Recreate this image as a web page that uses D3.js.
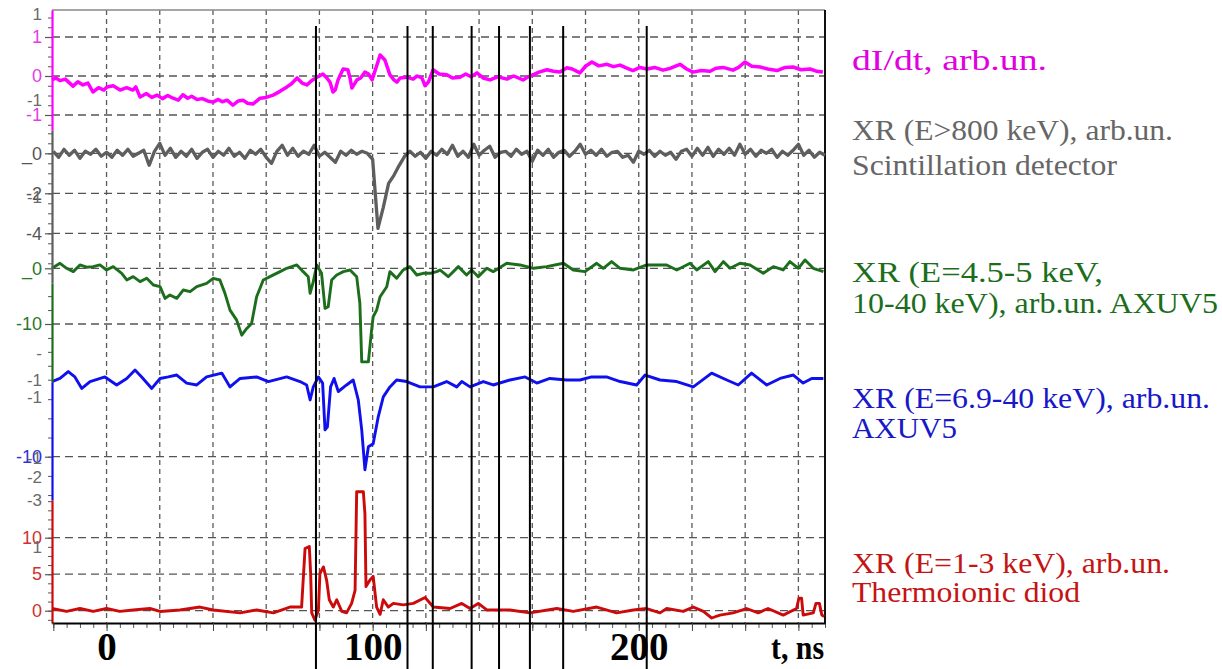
<!DOCTYPE html>
<html><head><meta charset="utf-8">
<script src="https://cdn.jsdelivr.net/npm/d3@7"></script>
<style>
html,body{margin:0;padding:0;background:#fff;}
svg{display:block;}
</style></head><body>
<svg id="chart" width="1222" height="669"></svg>
<script>
// ---------------- data ----------------
const timeTickValues = [0, 100, 200];
const timeTickLabels = ["0", "100", "200"];
const timeAxisTitle = "t, ns";
const markerTimes = [78.7, 113.1, 122.6, 137.2, 147.5, 159.1, 171.6, 203.0];

// dI/dt (magenta)
const dIdt = [[-20.5,-0.10],[-19,-0.05],[-17.5,-0.12],[-15.5,-0.08],[-12.6,-0.26],[-10.8,-0.15],[-8.9,-0.23],[-7,-0.18],[-5.1,-0.41],[-3,-0.30],[-1,-0.36],[0.2,-0.28],[2.5,-0.25],[5.1,-0.36],[7.5,-0.30],[9.9,-0.36],[11,-0.28],[12.6,-0.54],[15,-0.45],[17,-0.55],[19.0,-0.49],[21,-0.58],[23,-0.50],[25.0,-0.57],[27,-0.62],[28.7,-0.48],[30.5,-0.57],[32,-0.52],[34.0,-0.60],[36,-0.58],[38,-0.64],[40.0,-0.67],[42,-0.60],[43.5,-0.66],[45.3,-0.62],[47.5,-0.75],[49.5,-0.64],[51.3,-0.62],[53,-0.70],[55.0,-0.72],[57.7,-0.57],[60,-0.55],[62.6,-0.49],[65,-0.40],[67.8,-0.28],[69.5,-0.20],[71.6,-0.05],[73.5,-0.18],[75.3,-0.23],[77,-0.12],[79.1,-0.03],[81.3,0.05],[82.8,-0.05],[84.0,-0.16],[85.1,-0.41],[86,-0.35],[87.0,-0.10],[88.9,0.18],[90.7,0.16],[91.5,-0.05],[92.2,-0.31],[94.1,-0.10],[95.5,-0.05],[97.1,0.10],[98.5,0.05],[99.8,-0.10],[101.6,0.28],[102.8,0.54],[104.6,0.41],[106.5,0.03],[108,-0.10],[109.1,-0.16],[110.3,-0.05],[112.9,-0.03],[115.2,-0.08],[116.7,0.0],[118.5,-0.05],[119.7,-0.25],[121,-0.15],[122.7,0.16],[125,0.05],[127.9,0.03],[130,-0.05],[132.8,-0.03],[135,0.05],[137,-0.02],[139.2,0.08],[141.5,-0.05],[144.1,-0.10],[147,-0.02],[150.5,-0.08],[153,0.00],[156.5,-0.10],[158.5,-0.02],[160.3,0.03],[162.5,0.10],[165.5,0.16],[168,0.12],[170.4,0.10],[173.0,0.21],[175,0.18],[177.9,0.08],[180,0.25],[182.4,0.36],[185,0.26],[188.1,0.30],[190.5,0.24],[193.0,0.28],[195.5,0.20],[197.8,0.14],[200.5,0.22],[203.1,0.18],[206,0.22],[209.1,0.15],[212,0.20],[215.5,0.30],[218,0.18],[220.4,0.10],[223.5,0.14],[226.8,0.12],[229,0.20],[231.7,0.22],[235.4,0.15],[237.5,0.22],[239.9,0.36],[242.5,0.25],[245.6,0.23],[248.5,0.18],[252.0,0.14],[255,0.22],[258.0,0.23],[261,0.16],[264.4,0.18],[267,0.12],[269.2,0.10]];

// XR E>800 keV, scintillation detector (gray): sampled every 2 ns from -20 ns
const hxrStart = -20, hxrStep = 2;
const hxrValues = [
 0.10,-0.20, 0.20,-0.10, 0.15,-0.25, 0.10,-0.05, 0.20,-0.15,
 0.05,-0.20, 0.15,-0.10, 0.20,-0.15, 0.00, 0.15,-0.60, 0.10,
 0.50,-0.10, 0.25,-0.20, 0.10,-0.15, 0.20,-0.25, 0.05, 0.20,
-0.20, 0.10,-0.10, 0.25,-0.15, 0.05,-0.25, 0.15,-0.05, 0.20,
-0.20,-0.50, 0.10, 0.40,-0.10, 0.25,-0.15, 0.10,-0.05, 0.40,
-0.15, 0.05,-0.20,-0.45, 0.10,-0.10, 0.15,-0.05, 0.10, 0.00,
-0.30,-3.75,-2.70,-1.50,-1.10,-0.60,-0.15, 0.10,-0.15, 0.05,
-0.25, 0.10,-0.10, 0.20,-0.05, 0.40,-0.15, 0.10,-0.20, 0.45,
-0.10, 0.15, 0.35,-0.20, 0.05, 0.10,-0.15, 0.20,-0.05, 0.10,
-0.40, 0.15,-0.10, 0.20,-0.20, 0.05, 0.15,-0.15, 0.10, 0.45,
-0.05, 0.15,-0.10, 0.20,-0.15, 0.05, 0.10,-0.20,-0.10,-0.45,
 0.10,-0.05, 0.15,-0.15, 0.10,-0.10, 0.05,-0.30, 0.10, 0.20,
-0.15, 0.25,-0.10, 0.30,-0.15, 0.20,-0.05, 0.25,-0.10, 0.45,
-0.05, 0.20,-0.15, 0.15, 0.00, 0.20,-0.20, 0.10,-0.10, 0.15,
 0.45,-0.10, 0.15,-0.20, 0.05,-0.10];

// XR E=4.5-5 keV, 10-40 keV, AXUV5 (green)
const xr45 = [[-20.5,0.0],[-17.5,0.9],[-15,0],[-12.5,-0.6],[-10,0.6],[-7.5,0.2],[-5,0.3],[-2.5,0.6],[0,-0.3],[2.5,0.3],[5.7,-0.9],[7.6,-2.1],[10,-1.5],[12.6,-2.4],[15.1,-1.8],[17.6,-3.0],[20.1,-3.3],[22,-5.4],[23.8,-4.8],[26.4,-5.4],[28.8,-3.9],[31.4,-4.2],[33.9,-3.3],[37.6,-2.7],[40.1,-1.8],[42.6,-2.1],[44.5,-4.5],[46.4,-7.5],[48.9,-9.3],[50.8,-12.0],[52.7,-10.8],[54.5,-9.9],[56.4,-5.1],[58.9,-2.1],[61.4,-1.5],[65.2,-0.6],[67.7,0],[71.5,0.6],[73.9,-0.6],[75.8,-1.5],[76.5,-4.5],[77.7,-2.4],[79,0.6],[80.8,-0.9],[82.1,-7.2],[83.3,-6.9],[84.6,-2.1],[86.5,-1.2],[89,-0.6],[91.5,-0.3],[94,-1.5],[95.2,-6.3],[95.9,-16.8],[98.4,-16.8],[99.6,-11.1],[100.2,-8.7],[101.5,-7.5],[102.8,-5.1],[105.3,-3.3],[106.5,-0.6],[109,-1.8],[111.5,-0.3],[114,0.3],[116.6,-1.2],[119,-0.9],[121.6,-0.9],[124.1,-0.6],[125.3,-0.3],[128.4,-1.5],[132.2,0.3],[135.3,-1.2],[137.2,-0.3],[139.7,-1.5],[142.9,0],[145.3,-0.6],[150.4,0.9],[155.4,0.6],[160.4,0],[165.4,0.3],[171.7,0.9],[175.4,-0.3],[179.8,-0.6],[184.2,0.9],[186.7,0],[189.8,1.2],[193,0],[198,-0.3],[203,0.6],[210.5,0.6],[214.3,-0.3],[219.3,0.9],[221.8,-0.3],[226.1,1.2],[228.7,-0.6],[231.8,1.2],[234.3,0],[238.1,0.9],[241.8,0.6],[246.8,-0.9],[250.6,0.3],[254.3,-0.3],[256.8,1.2],[260,0],[262.5,1.5],[265.6,0],[269.4,-0.6]];

// XR E=6.9-40 keV, AXUV5 (blue)
const xr69 = [[-20.5,-0.2],[-17.5,0.2],[-14.4,1.1],[-11.9,0.4],[-9.3,-1.1],[-6.2,-0.2],[-0.6,0.4],[3.8,-0.65],[7.6,0.2],[10.7,1.3],[13.2,0.4],[17,-1.1],[20.1,0.2],[23.2,0.4],[26.4,0.65],[30.1,-0.4],[33.9,-0.65],[37.6,0.4],[43.3,0.9],[46.4,-0.9],[50.2,0.2],[56.4,0.4],[60.8,-0.2],[67.7,0.4],[72.7,-0.2],[75.2,-0.65],[76.5,-2.6],[77.7,-0.9],[79.6,0.4],[81.2,-0.4],[82.1,-6.5],[83,-6.1],[84.2,-0.9],[85.5,0.2],[87.1,-1.5],[90.2,-0.65],[92.7,0],[94.6,-2.6],[95.9,-6.5],[97.1,-11.7],[98.4,-8.7],[100.2,-8.3],[102.1,-4.8],[104,-2.2],[106.5,-0.9],[109,0],[112.8,-0.2],[117.8,-0.9],[122.8,-0.9],[127.8,-0.2],[131.6,-0.9],[133.5,-0.2],[136.6,-0.9],[141.6,-0.2],[145.3,-0.65],[151.6,0],[157.3,0.4],[161.7,-0.4],[166.6,0.2],[172.9,0],[177.9,0],[182.3,0.4],[187.9,0.4],[193,-0.2],[199.2,-0.65],[202.4,0.65],[208,0],[214.3,-0.2],[220.5,-0.9],[227.4,0.9],[233.1,0],[237.4,-0.65],[242.4,0.9],[248.1,-0.65],[253.1,0.2],[258.1,0.65],[261.8,-0.4],[265,0.2],[269.4,0.2]];

// XR E=1-3 keV, thermoionic diode (red)
const xr13 = [[-20.5,0.3],[-15,-0.1],[-10,0.3],[-5,-0.1],[0,0.3],[5,-0.1],[10,0.1],[16.3,0.3],[20.1,-0.1],[27.6,0.1],[35.1,0.5],[40.1,0.1],[50.2,-0.3],[56.4,0.1],[62.7,-0.3],[68.9,0.5],[73.3,0.5],[74.6,8.5],[76.2,8.8],[76.7,5.1],[77.1,-0.3],[78.3,-1.3],[79.6,0.1],[80.2,5.1],[81.5,6.0],[82.7,4.2],[83.7,1.5],[85.2,0.5],[86.5,1.5],[88.4,-0.1],[90.2,-0.3],[92.1,1.0],[93.4,2.8],[94,16.3],[96.5,16.3],[97.1,13.3],[97.5,3.3],[99,4.2],[100.2,4.7],[101.5,0.5],[102.8,-0.5],[104,1.5],[105.9,0.5],[107.8,1.0],[111.5,0.8],[115.3,1.0],[119.7,1.8],[122.8,0.5],[129.1,0.3],[133.5,1.0],[136.6,0.3],[139.7,1.0],[142.9,0.1],[151.6,0.1],[159.1,-0.3],[169.2,0.3],[175.4,-0.1],[184.2,0.5],[191.7,-0.3],[198,0.1],[203,0.3],[208,-0.3],[210.5,0.3],[216.7,-0.1],[220.5,0.5],[224.3,-0.1],[227.4,-1.0],[230.5,-0.6],[235.5,-0.3],[240.5,0.3],[244.9,-0.3],[248.6,0.3],[254.3,-0.6],[259.3,0.3],[260.2,1.7],[261.2,1.7],[261.8,-0.6],[265.6,-0.3],[266.6,1.0],[267.9,1.0],[268.8,-0.6],[269.7,-0.8]];

// axis ticks (values and their printed labels) per channel
const magTicks = [1, 0, -1],      magTickLabels = ["1", "0", "-1"];
const hxrTicks = [0, -2, -4],     hxrTickLabels = ["_0", "-2", "-4"];
const xr45Ticks = [0, -10],       xr45TickLabels = ["_0", "-10"];
const xr69Ticks = [-10],          xr69TickLabels = ["-10"];
const xr13Ticks = [10, 5, 0],     xr13TickLabels = ["10", "5", "0"];
// stray overlapping labels of the original left axis: [channel, value, text]
const strayLabels = [["mag",1.58,"1"],["mag",-0.62,"-1"],["hxr",-2.2,"-1"],["xr45",-15.2,"-"],["xr69",0,"-1"],["xr69",-2.2,"-1"],["xr69",-10.2,"-1"],["xr69",-12.6,"-2"],["xr69",-15.6,"-3"],["xr13",8.7,"1"]];

const legendMag  = ["dI/dt, arb.un."];
const legendHxr  = ["XR (E>800 keV), arb.un.", "Scintillation detector"];
const legend45   = ["XR (E=4.5-5 keV,", "10-40 keV), arb.un. AXUV5"];
const legend69   = ["XR (E=6.9-40 keV), arb.un.", "AXUV5"];
const legend13   = ["XR (E=1-3 keV), arb.un.", "Thermoionic diod"];

// ---------------- layout ----------------
const L = 52, R = 825, T = 10, B = 623;
const svg = d3.select("#chart");
const x = d3.scaleLinear().domain([-20.5, 270]).range([L, R]);

const hxr = hxrValues.map((v, i) => [hxrStart + i * hxrStep, v]);

const chans = [
  {key:"mag", data:dIdt, color:"#ff00ff", labelColor:"#e53be5", y:d3.scaleLinear().domain([1,-1]).range([37,115]), seg:[T,130], ticks:magTicks, labels:magTickLabels, minorStep:0.25, w:3.5, legend:legendMag, legendColor:"#e000e0", lw:[195], base:[70]},
  {key:"hxr", data:hxr, color:"#5e5e5e", labelColor:"#555", y:d3.scaleLinear().domain([0,-4]).range([153.3,233.3]), seg:[130,283], ticks:hxrTicks, labels:hxrTickLabels, minorStep:0.5, w:3.3, legend:legendHxr, legendColor:"#666", lw:[321,265], base:[140,175]},
  {key:"xr45", data:xr45, color:"#1c6e1c", labelColor:"#2a782a", y:d3.scaleLinear().domain([0,-10]).range([268.3,324]), seg:[283,382], ticks:xr45Ticks, labels:xr45TickLabels, minorStep:2.5, w:2.9, legend:legend45, legendColor:"#1c6e1c", lw:[251,366], base:[282,313]},
  {key:"xr69", data:xr69, color:"#1010ee", labelColor:"#3030dd", y:d3.scaleLinear().domain([0,-10]).range([380,456.7]), seg:[382,500], ticks:xr69Ticks, labels:xr69TickLabels, minorStep:2.5, w:2.9, legend:legend69, legendColor:"#1818c8", lw:[358,105], base:[408,438]},
  {key:"xr13", data:xr13, color:"#cc0a0a", labelColor:"#d03030", y:d3.scaleLinear().domain([0,10]).range([610.7,537.7]), seg:[500,B], ticks:xr13Ticks, labels:xr13TickLabels, minorStep:1.25, w:2.9, legend:legend13, legendColor:"#c41414", lw:[318,228], base:[573,602]}
];
const byKey = Object.fromEntries(chans.map(c => [c.key, c]));

// vertical dashed grid
svg.append("g").selectAll("line").data(d3.range(0, 261, 20)).join("line")
  .attr("x1", d => x(d)).attr("x2", d => x(d)).attr("y1", T).attr("y2", B)
  .attr("stroke", "#5a5a5a").attr("stroke-width", 1.3).attr("stroke-dasharray", "5,4");

// horizontal dashed grid per channel
chans.forEach(c => {
  svg.append("g").selectAll("line").data(c.ticks).join("line")
    .attr("x1", L).attr("x2", R).attr("y1", d => c.y(d)).attr("y2", d => c.y(d))
    .attr("stroke", "#555").attr("stroke-width", 1.3).attr("stroke-dasharray", "8,5");
});

// frame
svg.append("line").attr("x1", L).attr("x2", R).attr("y1", T).attr("y2", T).attr("stroke", "#888").attr("stroke-width", 1.5);
svg.append("line").attr("x1", R).attr("x2", R).attr("y1", T).attr("y2", B).attr("stroke", "#111").attr("stroke-width", 2);

// traces
chans.forEach(c => {
  const line = d3.line().x(d => x(d[0])).y(d => c.y(d[1]));
  svg.append("path").datum(c.data).attr("d", line)
    .attr("fill", "none").attr("stroke", c.color).attr("stroke-width", c.w)
    .attr("stroke-linejoin", "round");
});

// left axes (one colored segment per channel)
chans.forEach(c => {
  const seg = c.y.copy().domain([c.y.invert(c.seg[0]), c.y.invert(c.seg[1])]).range(c.seg);
  const d0 = Math.min(...seg.domain()), d1 = Math.max(...seg.domain());
  const minor = d3.range(Math.ceil(d0 / c.minorStep) * c.minorStep, d1, c.minorStep);
  const gm = svg.append("g").attr("transform", `translate(${L},0)`)
    .call(d3.axisLeft(seg).tickValues(minor).tickSize(4).tickFormat(""));
  gm.select(".domain").remove();
  gm.selectAll("line").attr("stroke", "#555");
  const g = svg.append("g").attr("transform", `translate(${L},0)`)
    .call(d3.axisLeft(seg).tickValues(c.ticks).tickSize(7).tickSizeOuter(0).tickPadding(3)
      .tickFormat((d, i) => c.labels[i]));
  g.select(".domain").attr("stroke", c.color).attr("stroke-width", 2.2);
  g.selectAll(".tick line").attr("stroke", "#555").attr("stroke-width", 1.2);
  g.selectAll("text").attr("fill", c.labelColor).style("font-family", "'Liberation Sans', Arial, sans-serif").style("font-size", "18px");
});

// stray labels
svg.append("g").selectAll("text").data(strayLabels).join("text")
  .attr("x", L - 10).attr("y", d => byKey[d[0]].y(d[1])).attr("dy", "0.35em")
  .attr("text-anchor", "end").attr("fill", "#6a6a6a")
  .style("font-family", "'Liberation Sans', Arial, sans-serif").style("font-size", "17px")
  .text(d => d[2]);

// bottom axis
const minorT = svg.append("g").attr("transform", `translate(0,${B})`)
  .call(d3.axisBottom(x).tickValues(d3.range(-20, 271, 5)).tickSize(5).tickFormat(""));
minorT.select(".domain").remove();
minorT.selectAll("line").attr("stroke", "#555");
const majorT = svg.append("g").attr("transform", `translate(0,${B})`)
  .call(d3.axisBottom(x).tickValues(d3.range(-20, 271, 20)).tickSize(8).tickSizeOuter(0).tickFormat(""));
majorT.select(".domain").attr("stroke", "#000").attr("stroke-width", 2.2);
majorT.selectAll("line").attr("stroke", "#444");

const lab = svg.append("g").attr("transform", `translate(0,${B})`)
  .call(d3.axisBottom(x).tickValues(timeTickValues).tickSize(0).tickPadding(9).tickFormat((d, i) => timeTickLabels[i]));
lab.select(".domain").remove();
lab.selectAll("text").attr("fill", "#000")
  .style("font-family", "'Liberation Serif', 'Times New Roman', serif").style("font-size", "39px").style("font-weight", "bold");

svg.append("text").attr("x", R - 1).attr("y", 659).attr("text-anchor", "end")
  .style("font-family", "'Liberation Serif', 'Times New Roman', serif").style("font-size", "34px").style("font-weight", "bold")
  .attr("textLength", 53).attr("lengthAdjust", "spacingAndGlyphs")
  .text(timeAxisTitle);

// black marker lines
svg.append("g").selectAll("line").data(markerTimes).join("line")
  .attr("x1", d => x(d)).attr("x2", d => x(d)).attr("y1", 26).attr("y2", 669)
  .attr("stroke", "#000").attr("stroke-width", 2);

// legend text
chans.forEach(c => {
  c.legend.forEach((t, i) => {
    svg.append("text").attr("x", 852).attr("y", c.base[i])
      .attr("fill", c.legendColor)
      .style("font-family", "'Liberation Serif', 'Times New Roman', serif").style("font-size", "30px")
      .attr("textLength", c.lw[i]).attr("lengthAdjust", "spacingAndGlyphs")
      .text(t);
  });
});
</script>
</body></html>
